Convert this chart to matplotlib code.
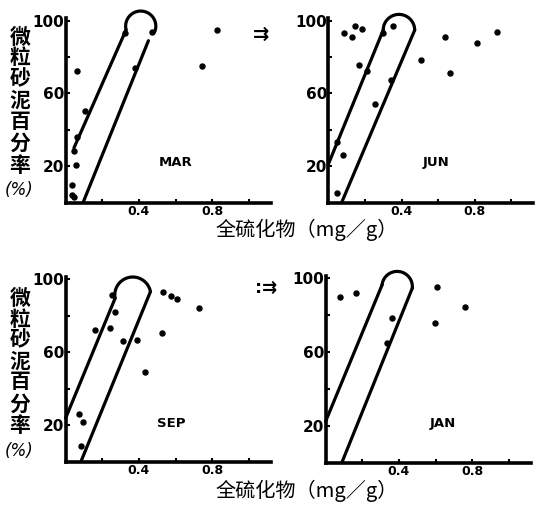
import numpy as np
import matplotlib
matplotlib.use("Agg")
import matplotlib.pyplot as plt

plt.rcParams['font.family'] = ['Noto Sans CJK SC', 'DejaVu Sans']

# ---------------- data ----------------
months = ["MAR", "JUN", "SEP", "JAN"]

mar_x = [0.105, 0.060, 0.047, 0.055, 0.036, 0.033, 0.045, 0.062, 0.325, 0.470, 0.379, 0.829, 0.743]
mar_y = [50.4, 35.9, 28.1, 20.8, 9.9, 4.4, 3.3, 72.3, 93.0, 93.9, 73.8, 94.8, 75.0]

jun_x = [0.086, 0.128, 0.146, 0.182, 0.354, 0.300, 0.170, 0.210, 0.345, 0.255,
         0.045, 0.078, 0.045, 0.509, 0.640, 0.664, 0.813, 0.924]
jun_y = [93.0, 91.1, 97.0, 95.2, 97.0, 93.0, 75.6, 72.3, 67.4, 54.0,
         33.1, 26.3, 5.5, 78.4, 91.2, 71.3, 87.5, 93.6]

sep_x = [0.253, 0.272, 0.158, 0.240, 0.314, 0.391, 0.433, 0.532, 0.574, 0.606,
         0.525, 0.730, 0.070, 0.094, 0.084]
sep_y = [91.4, 82.3, 72.2, 73.1, 66.2, 66.7, 49.4, 92.9, 90.9, 89.0,
         70.4, 84.1, 26.1, 21.9, 8.6]

jan_x = [0.079, 0.165, 0.360, 0.336, 0.607, 0.596, 0.761]
jan_y = [90.1, 92.2, 78.3, 65.1, 95.5, 75.6, 84.6]

# envelope (band) outlines: left line, arc end, right line, extra hook angle
mar_left = [(0.045, 30.0), (0.330, 95.0)]
mar_arc_end = (0.490, 99.0)
mar_right = [(0.452, 89.0), (0.095, 0.0)]

jun_left = [(0.0, 21.0), (0.300, 94.8)]
jun_arc_end = (0.472, 94.8)
jun_right = [(0.472, 94.8), (0.073, 0.0)]

sep_left = [(0.0, 24.0), (0.270, 89.6)]
sep_arc_end = (0.463, 93.2)
sep_right = [(0.463, 93.2), (0.085, 0.5)]

jan_left = [(0.0, 22.5), (0.308, 96.4)]
jan_arc_end = (0.473, 94.6)
jan_right = [(0.473, 94.6), (0.088, 0.0)]

hooks = [35, 0, 0, 0]

y_major = [20, 60, 100]
y_major_labels = ["20", "60", "100"]
y_minor = [40, 80]
x_major = [0.4, 0.8]
x_major_labels = ["0.4", "0.8"]
x_minor = [0.2, 0.6, 1.0]

ylabel_chars = ["微", "粒", "砂", "泥", "百", "分", "率"]
xlabel = "全硫化物（mg／g）"

# ---------------- figure ----------------
W, H = 539, 508
fig = plt.figure(figsize=(W / 100, H / 100), dpi=100)

# axes origin (px) and y=100 (px)
origins = [(65.7, 202.5), (328.3, 202.5), (65.7, 461.7), (325.7, 462.7)]
tops = [20.7, 20.7, 279.3, 278.3]
xmax = 1.12
xscale = 183.0

panels = [
    (mar_x, mar_y, mar_left, mar_arc_end, mar_right),
    (jun_x, jun_y, jun_left, jun_arc_end, jun_right),
    (sep_x, sep_y, sep_left, sep_arc_end, sep_right),
    (jan_x, jan_y, jan_left, jan_arc_end, jan_right),
]
label_pos = [(0.60, 22), (0.59, 22), (0.575, 21), (0.64, 21)]

for i, (px, py, left, arc_end, right) in enumerate(panels):
    ox, oy = origins[i]
    ty = tops[i]
    ax = fig.add_axes([ox / W, 1 - oy / H, xmax * xscale / W, (oy - ty) / H])
    ax.set_xlim(0, xmax)
    ax.set_ylim(0, 100)
    for s in ["top", "right"]:
        ax.spines[s].set_visible(False)
    for s in ["left", "bottom"]:
        ax.spines[s].set_linewidth(2.6)
        ax.spines[s].set_capstyle('projecting')
    ax.spines["left"].set_bounds(0, 101.5)
    ax.patch.set_alpha(0)

    ax.set_yticks(y_major)
    ax.set_yticklabels(y_major_labels, fontsize=11, fontweight='bold', family='DejaVu Sans')
    ax.set_yticks(y_minor, minor=True)
    ax.set_xticks(x_major)
    ax.set_xticklabels(x_major_labels, fontsize=9, fontweight='bold', family='DejaVu Sans')
    ax.set_xticks(x_minor, minor=True)
    ax.tick_params(which='both', direction='in', length=3, width=1.5, pad=1)
    ax.tick_params(axis='x', which='both', pad=2)

    # scatter points
    ax.plot(px, py, 'o', color='black', markersize=3.6, clip_on=False, zorder=5)

    # envelope lines
    lx = [p[0] for p in left]
    ly = [p[1] for p in left]
    ax.plot(lx, ly, color='black', lw=2.3, clip_on=False, solid_capstyle='round')
    rx = [p[0] for p in right]
    ry = [p[1] for p in right]
    ax.plot(rx, ry, color='black', lw=2.3, clip_on=False, solid_capstyle='round')

    # arc over the top (semicircle in display space)
    fig.canvas.draw()
    tr = ax.transData
    L = tr.transform(left[1])
    R = tr.transform(arc_end)
    C = (L + R) / 2
    r = np.hypot(*(R - L)) / 2
    a0 = np.arctan2(L[1] - C[1], L[0] - C[0])
    a1 = np.arctan2(R[1] - C[1], R[0] - C[0])
    if a1 > a0:
        a1 -= 2 * np.pi
    a1 -= np.deg2rad(hooks[i])
    t = np.linspace(a0, a1, 80)
    pts = np.column_stack([C[0] + r * np.cos(t), C[1] + r * np.sin(t)])
    dpts = tr.inverted().transform(pts)
    ax.plot(dpts[:, 0], dpts[:, 1], color='black', lw=2.3, clip_on=False,
            solid_capstyle='round')

    ax.text(label_pos[i][0], label_pos[i][1], months[i], fontsize=9.5,
            fontweight='bold', family='DejaVu Sans', ha='center', va='center')

# y-axis labels (vertical stacked characters)
ylab_y = [37, 58, 79, 100, 121, 143, 165]
for off in [0, 261]:
    for ch, yy in zip(ylabel_chars, ylab_y):
        fig.text(20 / W, 1 - (yy + off) / H, ch, fontsize=15, fontweight='bold',
                 ha='center', va='center')
    fig.text(19 / W, 1 - (190 + off) / H, "(%)", fontsize=12, style='italic',
             ha='center', va='center', family='DejaVu Sans')

# x-axis labels
for yy in [230, 491]:
    fig.text(307 / W, 1 - yy / H, xlabel, fontsize=14.5, ha='center', va='center')

# arrows between panels
fig.text(261 / W, 1 - 34 / H, "⇉", fontsize=14, fontweight='bold',
         ha='center', va='center', family='DejaVu Sans')
fig.text(266 / W, 1 - 288 / H, ":⇉", fontsize=13, fontweight='bold',
         ha='center', va='center', family='DejaVu Sans')

fig.savefig("out.png", dpi=100)
